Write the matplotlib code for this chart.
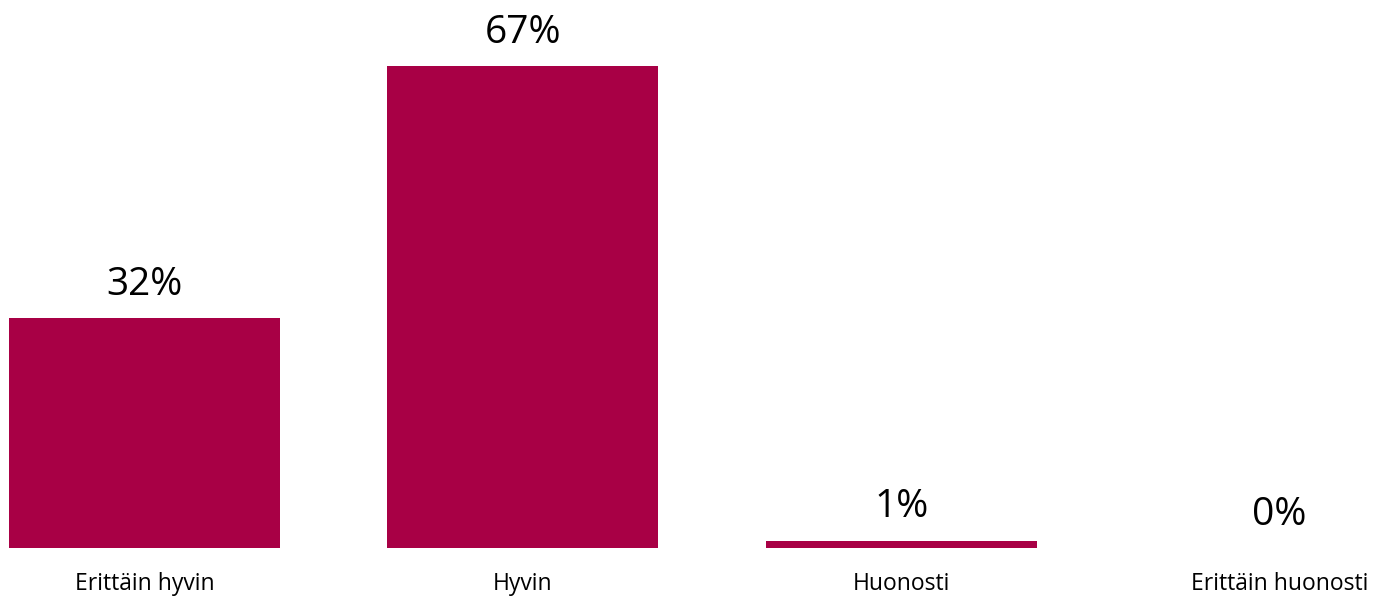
import matplotlib.pyplot as plt

categories = ["Erittäin hyvin", "Hyvin", "Huonosti", "Erittäin huonosti"]
values = [32, 67, 1, 0]
labels = ["32%", "67%", "1%", "0%"]

plt.rcParams['font.family'] = ['Open Sans', 'DejaVu Sans']

fig = plt.figure(figsize=(13.79, 5.98), dpi=100)
ax = fig.add_axes([0, 50 / 598, 1, 548 / 598])

x = range(len(categories))
bars = ax.bar(x, values, width=0.716, color="#A80045")

for b, lab in zip(bars, labels):
    ax.annotate(lab, (b.get_x() + b.get_width() / 2, b.get_height()),
                xytext=(0, 24), textcoords="offset points",
                ha="center", va="center", fontsize=28, color="black")

ax.set_xlim(-0.382, 3.263)
ax.set_ylim(0, 76.2)
ax.set_xticks(list(x))
ax.set_xticklabels(categories, fontsize=16.5)
ax.tick_params(axis="x", length=0, pad=17)
ax.set_yticks([])
for s in ax.spines.values():
    s.set_visible(False)

fig.savefig("out.png", dpi=100)
